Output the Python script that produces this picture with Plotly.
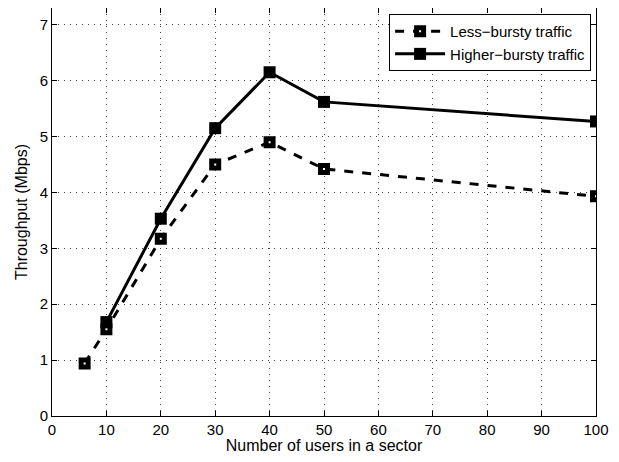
import plotly.graph_objects as go

users = [6, 10, 20, 30, 40, 50, 100]
less_bursty = [0.94, 1.55, 3.17, 4.5, 4.9, 4.42, 3.93]
users_high = [10, 20, 30, 40, 50, 100]
higher_bursty = [1.68, 3.53, 5.15, 6.15, 5.62, 5.27]

x_ticks = [0, 10, 20, 30, 40, 50, 60, 70, 80, 90, 100]
y_ticks = [0, 1, 2, 3, 4, 5, 6, 7]

fig = go.Figure()
fig.add_trace(go.Scatter(
    x=users, y=less_bursty, name="Less\u2212bursty traffic",
    mode="lines+markers",
    line=dict(color="black", width=3, dash="dash"),
    marker=dict(symbol="square", size=7, color="white", line=dict(color="black", width=5)),
))
fig.add_trace(go.Scatter(
    x=users_high, y=higher_bursty, name="Higher\u2212bursty traffic",
    mode="lines+markers",
    line=dict(color="black", width=3),
    marker=dict(symbol="square", size=12, color="black"),
))

axis_common = dict(
    showline=True, linecolor="black", linewidth=1, mirror="ticks",
    ticks="inside", ticklen=5, tickcolor="black",
    showgrid=True, gridcolor="#444444", griddash="1px,5px", gridwidth=1,
    zeroline=False, tickfont=dict(size=15, color="black"), automargin=False,
)

fig.update_layout(
    width=603, height=446,
    margin=dict(l=44, r=15, t=0, b=38),
    paper_bgcolor="white", plot_bgcolor="white",
    font=dict(family="Liberation Sans, Arial, sans-serif", color="black", size=14),
    xaxis=dict(range=[0, 100], tickvals=x_ticks,
               title=dict(text="Number of users in a sector", font=dict(size=16, color="black"), standoff=0),
               **axis_common),
    yaxis=dict(range=[0, 7.3], tickvals=y_ticks,
               title=dict(text="Throughput (Mbps)", font=dict(size=16, color="black"), standoff=8),
               **axis_common),
    showlegend=True,
    legend=dict(x=0.991, y=0.985, xanchor="right", yanchor="top",
                bgcolor="white", bordercolor="black", borderwidth=1,
                font=dict(size=15, color="black"), tracegroupgap=0, itemwidth=50),
)

fig.write_html("out.html")
